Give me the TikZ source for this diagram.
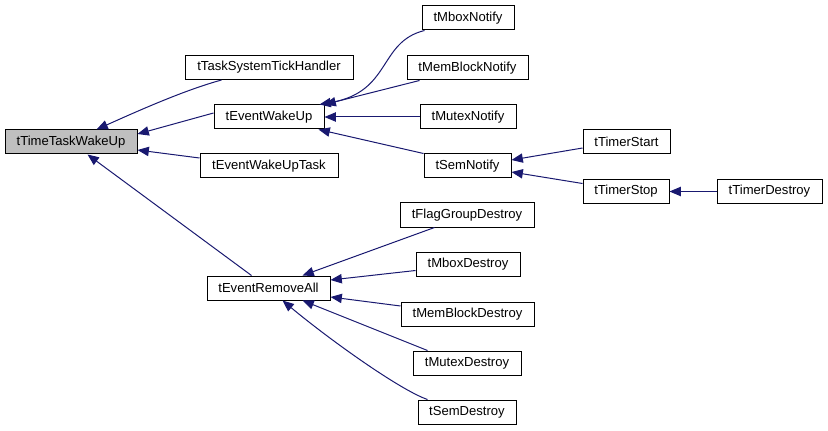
\documentclass[tikz,border=0pt]{standalone}
\usepackage{fontspec}
\setmainfont{Liberation Sans}
\usetikzlibrary{arrows.meta,calc}
\definecolor{edgeblue}{HTML}{191970}
\definecolor{boxgray}{HTML}{BFBFBF}
\begin{document}
\begin{tikzpicture}[x=0.75pt,y=-0.75pt,
  fn/.style={draw=black,line width=0.75pt,rectangle,inner sep=0pt,minimum height=18pt,font=\fontsize{9.8}{12}\selectfont},
  edge/.style={draw=edgeblue,line width=0.75pt,-{Triangle[length=8.5pt,width=7pt]}}]
\useasboundingbox (0,0) rectangle (828,431);
% nodes
\node[fn,fill=boxgray,minimum width=99pt] (TTWU) at (71,142) {tTimeTaskWakeUp};
\node[fn,minimum width=126pt] (TSTH) at (269,67.5) {tTaskSystemTickHandler};
\node[fn,minimum width=82.5pt] (EWU) at (269,117) {tEventWakeUp};
\node[fn,minimum width=103.5pt] (EWUT) at (269,166) {tEventWakeUpTask};
\node[fn,minimum width=92.25pt] (ERA) at (268.5,288) {tEventRemoveAll};
\node[fn,minimum width=69pt] (MboxN) at (468,18) {tMboxNotify};
\node[fn,minimum width=90.75pt] (MemBN) at (467.5,68) {tMemBlockNotify};
\node[fn,minimum width=72pt] (MutexN) at (468,117) {tMutexNotify};
\node[fn,minimum width=65.25pt] (SemN) at (467.5,166) {tSemNotify};
\node[fn,minimum width=65.25pt] (TStart) at (626.5,142) {tTimerStart};
\node[fn,minimum width=64.5pt] (TStop) at (626,191.5) {tTimerStop};
\node[fn,minimum width=78.75pt] (TDestroy) at (769.5,191.5) {tTimerDestroy};
\node[fn,minimum width=100.5pt] (FlagD) at (467,215) {tFlagGroupDestroy};
\node[fn,minimum width=78pt] (MboxD) at (468,264.5) {tMboxDestroy};
\node[fn,minimum width=99.75pt] (MemBD) at (467.5,314) {tMemBlockDestroy};
\node[fn,minimum width=81pt] (MutexD) at (467,363) {tMutexDestroy};
\node[fn,minimum width=73.5pt] (SemD) at (467,412) {tSemDestroy};
% edges
\draw[edge] ($(TSTH.south west)+(37,0)$) .. controls (185,90) and (140,110) .. ($(TTWU.north west)+(92,0)$);
\draw[edge] ($(EWU.west)+(0,-4)$) -- ($(TTWU.east)+(0,-8)$);
\draw[edge] ($(EWUT.west)+(0,-8)$) -- ($(TTWU.east)+(0,8)$);
\draw[edge] ($(ERA.north west)+(45,0)$) -- ($(TTWU.south west)+(83,0)$);
\draw[edge] ($(MboxN.south west)+(3,0)$) .. controls (378,42) and (392,92) .. ($(EWU.north east)+(-5,0)$);
\draw[edge] ($(MemBN.south west)+(13,0)$) -- (EWU.north east);
\draw[edge] (MutexN.west) -- (EWU.east);
\draw[edge] (SemN.north west) -- ($(EWU.south east)+(-6,0)$);
\draw[edge] ($(TStart.west)+(0,6)$) -- ($(SemN.east)+(0,-6)$);
\draw[edge] ($(TStop.west)+(0,-8)$) -- ($(SemN.east)+(0,6)$);
\draw[edge] (TDestroy.west) -- (TStop.east);
\draw[edge] ($(FlagD.south west)+(35,0)$) -- ($(ERA.north west)+(96,0)$);
\draw[edge] ($(MboxD.west)+(0,6)$) -- ($(ERA.east)+(0,-8)$);
\draw[edge] ($(MemBD.west)+(0,-8)$) -- ($(ERA.east)+(0,9)$);
\draw[edge] ($(MutexD.north west)+(15,0)$) -- ($(ERA.south west)+(96,0)$);
\draw[edge] ($(SemD.north west)+(10,0)$) .. controls (400,390) and (330,340) .. ($(ERA.south west)+(76,0)$);
\end{tikzpicture}
\end{document}
